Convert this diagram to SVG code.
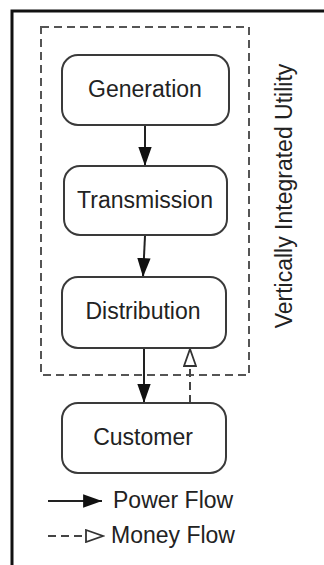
<svg xmlns="http://www.w3.org/2000/svg" width="324" height="565" viewBox="0 0 324 565">
<style>
.box{fill:#fff;stroke:#3a3a3a;stroke-width:2}
.lbl{font-family:"Liberation Sans",Arial,sans-serif;font-size:23px;fill:#222;text-anchor:middle}
.leg{font-family:"Liberation Sans",Arial,sans-serif;font-size:23px;fill:#222}
.pw{stroke:#222;stroke-width:2;fill:none}
.mn{stroke:#444;stroke-width:2;fill:none;stroke-dasharray:8 5}
</style>
<defs>
<marker id="fa" markerUnits="userSpaceOnUse" markerWidth="20" markerHeight="14" viewBox="0 0 18 12" refX="17" refY="6" orient="auto">
<path d="M0,0 L17,6 L0,12 Z" fill="#111"/>
</marker>
<marker id="ha" markerUnits="userSpaceOnUse" markerWidth="20" markerHeight="14" viewBox="-1 -1 19 14" refX="17" refY="6" orient="auto">
<path d="M0,0 L17,6 L0,12 Z" fill="#fff" stroke="#333" stroke-width="1.8"/>
</marker>
</defs>
<rect width="324" height="565" fill="#fff"/>
<path d="M12,565 V11 H324" fill="none" stroke="#111" stroke-width="3"/>
<g id="utility">
<rect x="41" y="27" width="208" height="348" fill="none" stroke="#555" stroke-width="2" stroke-dasharray="8 5"/>
<text class="lbl" transform="translate(292,196) rotate(-90)">Vertically Integrated Utility</text>
</g>
<g id="connectors">
<line class="pw" x1="145" y1="126" x2="145" y2="166" marker-end="url(#fa)"/>
<line class="pw" x1="145" y1="236" x2="143" y2="277" marker-end="url(#fa)"/>
<line class="pw" x1="144" y1="349" x2="144" y2="403" marker-end="url(#fa)"/>
<line class="mn" x1="190" y1="403" x2="190" y2="349" marker-end="url(#ha)"/>
</g>
<g id="generation">
<rect class="box" x="62" y="55" width="167" height="70" rx="16"/>
<text class="lbl" x="145" y="97">Generation</text>
</g>
<g id="transmission">
<rect class="box" x="64" y="166" width="163" height="69" rx="16"/>
<text class="lbl" x="145" y="208">Transmission</text>
</g>
<g id="distribution">
<rect class="box" x="62" y="277" width="164" height="71" rx="16"/>
<text class="lbl" x="143" y="319">Distribution</text>
</g>
<g id="customer">
<rect class="box" x="62" y="403" width="164" height="70" rx="16"/>
<text class="lbl" x="143" y="445">Customer</text>
</g>
<g id="legend">
<line class="pw" x1="48" y1="501" x2="102" y2="501" marker-end="url(#fa)"/>
<text class="leg" x="113" y="508">Power Flow</text>
<line class="mn" x1="48" y1="536" x2="103" y2="536" stroke-dasharray="9 5" marker-end="url(#ha)"/>
<text class="leg" x="111" y="543">Money Flow</text>
</g>
</svg>
